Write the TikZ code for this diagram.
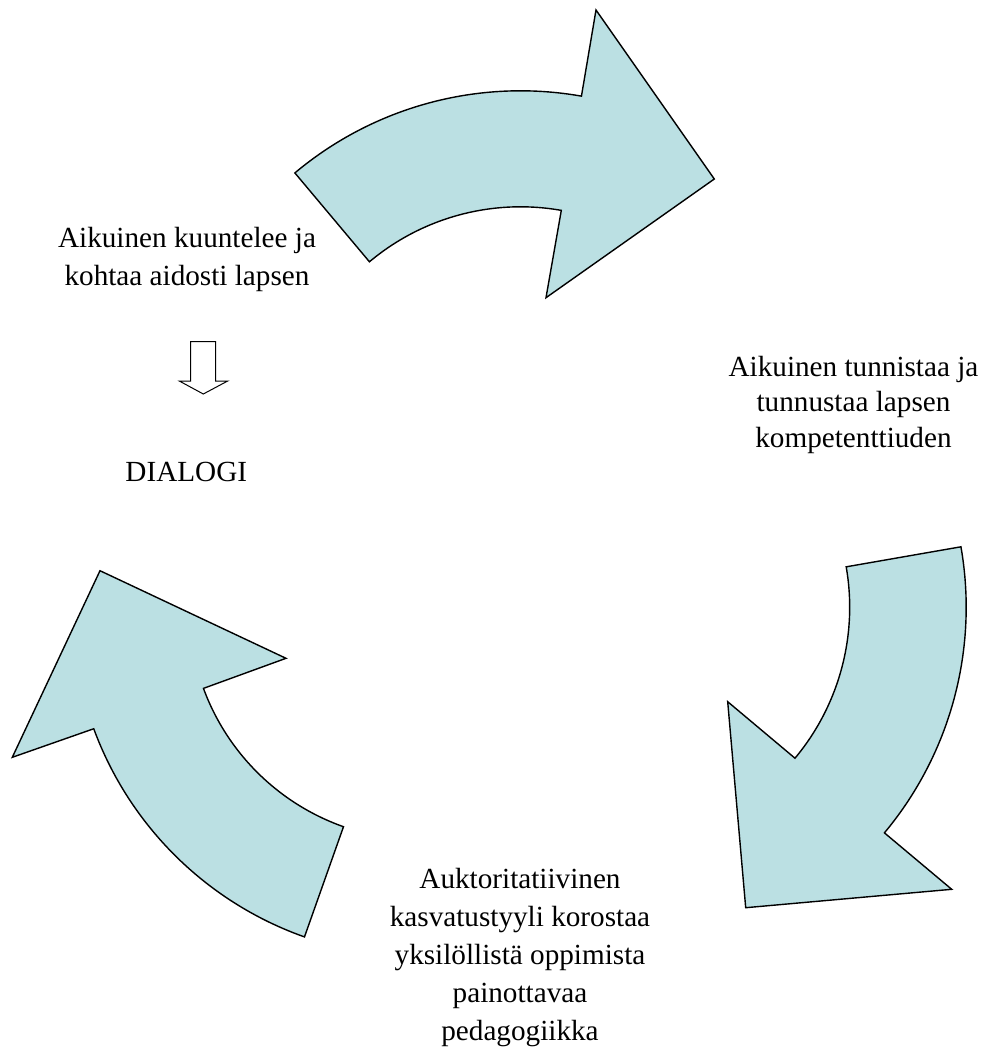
\documentclass[tikz,border=0pt]{standalone}
\usepackage{fontspec}
\setmainfont{Liberation Serif}
\usetikzlibrary{calc}
\definecolor{arrowfill}{RGB}{187,224,227}
\tikzset{
  bigarrow/.style={fill=arrowfill, draw=black, line width=0.7pt, line join=miter},
  smallarrow/.style={draw=black, line width=0.5pt, fill=white, line join=miter},
  label/.style={align=center, inner sep=0pt, font=\fontsize{14.6}{19}\selectfont},
}
\begin{document}
\begin{tikzpicture}[x=0.5pt, y=-0.5pt]
  \useasboundingbox[fill=white] (0,0) rectangle (985,1057);

  % centres of the three curved arrows
  \coordinate (c1) at (520.5,441.8);
  \coordinate (c2) at (614.2,607.3);
  \coordinate (c3) at (420.8,608.4);

  % top arrow, pointing right
  \draw[bigarrow] ($(c1)+(-130:351)$) arc[start angle=-130, end angle=-80, radius=351]
    -- (596,10) -- (714.3,179) -- (546,297.7)
    -- ($(c1)+(-80:235)$) arc[start angle=-80, end angle=-130, radius=235] -- cycle;

  % right arrow, pointing down
  \draw[bigarrow] ($(c2)+(-9.9:352)$) arc[start angle=-9.9, end angle=39.85, radius=352]
    -- (951.7,889.3) -- (745.7,907.7) -- (727.7,701.7)
    -- ($(c2)+(39.85:235.5)$) arc[start angle=39.85, end angle=-9.9, radius=235.5] -- cycle;

  % left arrow, pointing up
  \draw[bigarrow] ($(c3)+(109.5:348.5)$) arc[start angle=109.5, end angle=159.8, radius=348.5]
    -- (12.3,757.3) -- (100,570.7) -- (286,658.3)
    -- ($(c3)+(159.8:231.6)$) arc[start angle=159.8, end angle=109.5, radius=231.6] -- cycle;

  % small outlined down arrow
  \draw[smallarrow] (190.7,341.7) -- (215.7,341.7) -- (215.7,381) -- (227.7,381)
    -- (203.3,394) -- (179.3,381) -- (190.7,381) -- cycle;

  % texts (base anchor sits on the last line)
  \node[label, anchor=base] (listen) at (187,285) {Aikuinen kuuntelee ja\\kohtaa aidosti lapsen};
  \node[label, anchor=base] (dialog) at (186.3,481.7) {DIALOGI};
  \node[label, anchor=base, font=\fontsize{14.6}{17.75}\selectfont] (recognise) at (853.5,447)
    {Aikuinen tunnistaa ja\\tunnustaa lapsen\\kompetenttiuden};
  \node[label, anchor=base] (style) at (520,1040)
    {Auktoritatiivinen\\kasvatustyyli korostaa\\yksilöllistä oppimista\\painottavaa\\pedagogiikka};
\end{tikzpicture}
\end{document}
